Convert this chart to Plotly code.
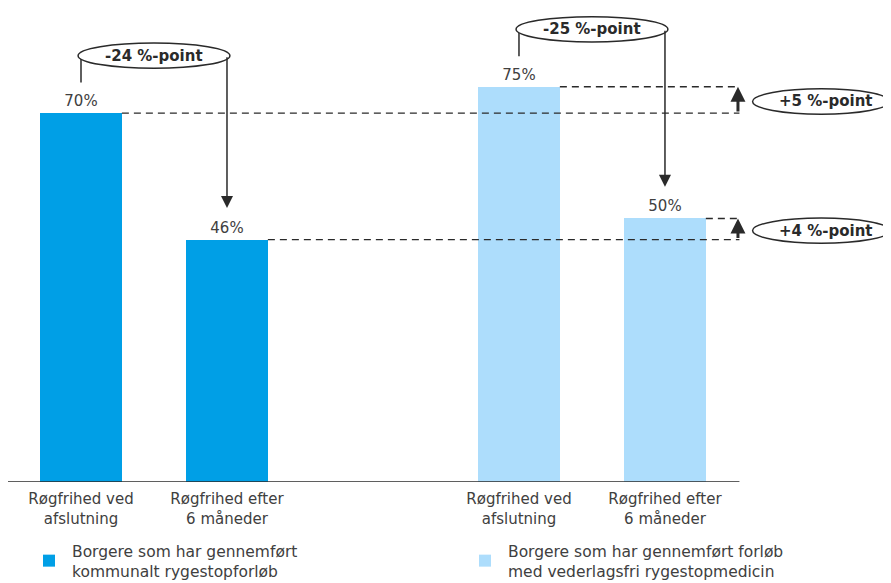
import plotly.graph_objects as go

# ---- data ----
positions = [0, 1, 3, 4]
tick_labels = ["Røgfrihed ved<br>afslutning", "Røgfrihed efter<br>6 måneder",
               "Røgfrihed ved<br>afslutning", "Røgfrihed efter<br>6 måneder"]
series_names = ["Borgere som har gennemført<br>kommunalt rygestopforløb",
                "Borgere som har gennemført forløb<br>med vederlagsfri rygestopmedicin"]
kommunal = [70, 46]
vederlagsfri = [75, 50]
colors = ["#009FE6", "#ADDDFC"]

TXT = "#404040"
DARK = "#2a2a2a"
FONT = "DejaVu Sans"
BW = 0.56

fig = go.Figure()
for name, xs, ys, c in [(series_names[0], positions[:2], kommunal, colors[0]),
                        (series_names[1], positions[2:], vederlagsfri, colors[1])]:
    fig.add_trace(go.Bar(
        x=xs, y=ys, name=name, width=BW, marker=dict(color=c, line=dict(width=0)),
        text=[f"{v}%" for v in ys], textposition="outside", cliponaxis=False,
        textfont=dict(family=FONT, size=15, color=TXT),
    ))

shapes = []
annotations = []
right_x = 4.51

# baseline
shapes.append(dict(type="line", xref="x", yref="y", x0=-0.52, x1=right_x, y0=0, y1=0,
                   line=dict(color=DARK, width=1.5)))

# dashed reference lines from bar tops
for xpos, v in zip(positions, kommunal + vederlagsfri):
    shapes.append(dict(type="line", xref="x", yref="y", x0=xpos + BW / 2, x1=right_x,
                       y0=v, y1=v, line=dict(color=DARK, width=1.3, dash="7px,5px")))

# group change callouts
groups = [(positions[0], positions[1], kommunal), (positions[2], positions[3], vederlagsfri)]
for xa, xb, vals in groups:
    diff = vals[1] - vals[0]
    ey = vals[0] + 10.9
    xc = (xa + xb) / 2
    shapes.append(dict(type="line", xref="x", yref="y", x0=xa, x1=xa, y0=vals[0] + 5.8, y1=ey,
                       line=dict(color=DARK, width=1.5)))
    annotations.append(dict(x=xb, y=vals[1] + 6, ax=xb, ay=ey, xref="x", yref="y",
                            axref="x", ayref="y", showarrow=True, arrowhead=2, arrowsize=1.6,
                            arrowwidth=1.5, arrowcolor=DARK, text=""))
    shapes.append(dict(type="circle", xref="x", yref="y", x0=xc - 0.52, x1=xc + 0.52,
                       y0=ey - 2.4, y1=ey + 2.4, fillcolor="white",
                       line=dict(color=DARK, width=1.5)))
    annotations.append(dict(x=xc, y=ey, xref="x", yref="y", showarrow=False,
                            text=f"<b>{diff} %-point</b>",
                            font=dict(family=FONT, size=15, color=DARK)))

# cross-group differences (+5, +4)
arrow_x = 4.5
for v_low, v_high in [(kommunal[0], vederlagsfri[0]), (kommunal[1], vederlagsfri[1])]:
    d = v_high - v_low
    annotations.append(dict(x=arrow_x, y=v_high, ax=arrow_x, ay=v_low, xref="x", yref="y",
                            axref="x", ayref="y", showarrow=True, arrowhead=2, arrowsize=1,
                            arrowwidth=3, arrowcolor=DARK, text=""))
    cy = (v_low + v_high) / 2 - 0.3
    shapes.append(dict(type="circle", xref="x", yref="y", x0=4.6, x1=5.54,
                       y0=cy - 2.4, y1=cy + 2.4, fillcolor="white",
                       line=dict(color=DARK, width=1.5)))
    annotations.append(dict(x=5.1, y=cy, xref="x", yref="y", showarrow=False,
                            text=f"<b>+{d} %-point</b>",
                            font=dict(family=FONT, size=15, color=DARK)))

fig.update_layout(
    width=891, height=583,
    margin=dict(l=0, r=0, t=0, b=109, autoexpand=False),
    paper_bgcolor="white", plot_bgcolor="white",
    shapes=shapes, annotations=annotations,
    bargap=0,
    xaxis=dict(range=[-0.5, 5.603], tickvals=positions, ticktext=tick_labels,
               showgrid=False, zeroline=False, showline=False, ticks="",
               ticklabelstandoff=6,
               tickfont=dict(family=FONT, size=15, color=TXT), fixedrange=True,
               automargin=False),
    yaxis=dict(range=[0, 89.94], visible=False, fixedrange=True, automargin=False),
    showlegend=True,
    legend=dict(orientation="h", x=18 / 891, y=1 - 526 / 583, xref="container", yref="container",
                xanchor="left", yanchor="top", itemwidth=36,
                entrywidth=385, entrywidthmode="pixels",
                font=dict(family=FONT, size=15.5, color=TXT), traceorder="normal"),
    font=dict(family=FONT),
)

fig.write_html("out.html")
